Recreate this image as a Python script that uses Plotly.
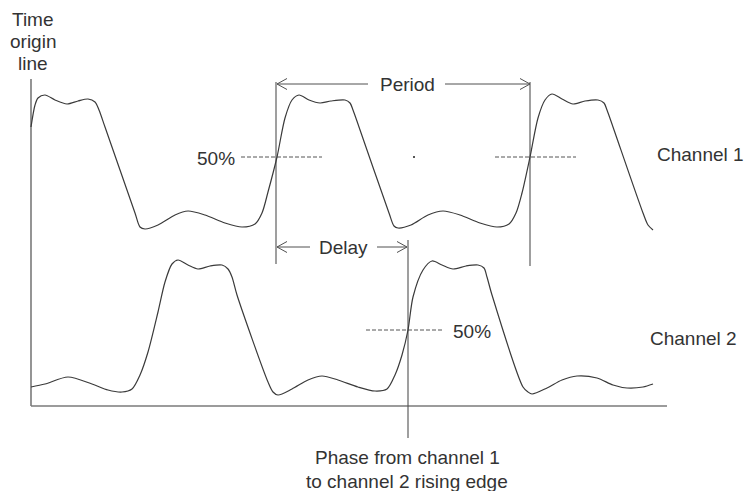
import plotly.graph_objects as go

# ---- Data (diagram coordinates: x to the right, y downwards) ----
ch1_x = [31, 35, 38, 45, 55, 67, 78, 88, 95, 99, 105, 135, 140, 145, 158, 175, 188, 205, 225, 242, 255, 262, 268, 277,
         285, 292, 299, 309, 320, 331, 345, 350, 353, 359, 389, 394, 398, 411, 428, 443, 460, 480, 497, 509, 516, 522, 530,
         538, 545, 552, 562, 573, 585, 598, 604, 607, 613, 643, 648, 653]
ch1_y = [127, 105, 98, 95, 100, 104, 101, 99, 102, 110, 127, 213, 227, 229, 225, 215, 211, 215, 223, 227, 224, 213, 192, 157,
         118, 100, 95, 100, 103, 101, 100, 103, 110, 127, 213, 226, 228, 225, 215, 211, 215, 223, 227, 224, 213, 193, 157,
         118, 100, 94, 99, 104, 101, 100, 103, 110, 127, 213, 225, 230]

ch2_x = [31, 45, 68, 92, 108, 122, 132, 140, 148, 158, 165, 172, 178, 188, 198, 210, 222, 228, 232, 237, 268, 273, 278,
         292, 308, 322, 338, 358, 375, 387, 395, 402, 408, 413, 423, 432, 442, 453, 466, 478, 484, 487, 492, 523, 528, 532,
         547, 562, 577, 597, 613, 627, 643, 653]
ch2_y = [387, 384, 377, 384, 390, 392, 389, 375, 352, 312, 282, 264, 260, 265, 269, 266, 265, 269, 277, 295, 382, 392, 395,
         389, 380, 376, 380, 387, 391, 389, 375, 355, 330, 297, 270, 261, 265, 269, 266, 265, 268, 277, 295, 387, 392, 394,
         388, 380, 376, 378, 385, 388, 387, 384]

origin_x = 31
axis_y = 406
axis_end_x = 667
origin_top_y = 79

crossing_ch1 = [276, 530]
crossing_ch2 = 408
level_ch1 = 157
level_ch2 = 330
period_y = 84
delay_y = 247

# ---- Styles ----
WAVE = "#3a3a3a"
AXIS = "#7a7a7a"
GUIDE = "#505050"
TEXT = "#333333"
FONT = "Liberation Sans, Arial, sans-serif"
FS = 19
HEAD_L, HEAD_W = 10, 5.5

fig = go.Figure()

def seg(xs, ys, color=GUIDE, width=1.0, dash=None):
    fig.add_trace(go.Scatter(x=xs, y=ys, mode="lines", hoverinfo="skip", showlegend=False,
                             line=dict(color=color, width=width, dash=dash)))

# axes of the diagram
seg([origin_x, origin_x], [origin_top_y, axis_y], AXIS, 1.6)
seg([origin_x, axis_end_x], [axis_y, axis_y], AXIS, 1.6)

# vertical reference lines
seg([crossing_ch1[0]] * 2, [82, 264], GUIDE, 1.1)
seg([crossing_ch1[1]] * 2, [82, 266], GUIDE, 1.1)
seg([crossing_ch2] * 2, [240, 438], GUIDE, 1.1)

# dimension arrows
def arrow(x0, x1, y, gap0, gap1):
    seg([x0, gap0], [y, y], GUIDE, 1.0)
    seg([gap1, x1], [y, y], GUIDE, 1.0)
    seg([x0 + HEAD_L, x0, x0 + HEAD_L], [y - HEAD_W, y, y + HEAD_W], GUIDE, 1.0)
    seg([x1 - HEAD_L, x1, x1 - HEAD_L], [y - HEAD_W, y, y + HEAD_W], GUIDE, 1.0)

arrow(crossing_ch1[0] + 1, crossing_ch1[1], period_y, 368, 445)
arrow(crossing_ch1[0] + 1, crossing_ch2 - 1, delay_y, 310, 377)

# 50% dashed levels
seg([241, 322], [level_ch1] * 2, "#555555", 1.0, "4px,2px")
seg([495, 576], [level_ch1] * 2, "#555555", 1.0, "4px,2px")
seg([366, 442], [level_ch2] * 2, "#555555", 1.0, "4px,2px")
fig.add_trace(go.Scatter(x=[414], y=[level_ch1], mode="markers", hoverinfo="skip", showlegend=False,
                         marker=dict(size=2, color="#555555", symbol="square")))

# waveforms
fig.add_trace(go.Scatter(x=ch1_x, y=ch1_y, mode="lines", hoverinfo="skip", showlegend=False,
                         line=dict(color=WAVE, width=1.2, shape="spline", smoothing=0.8)))
fig.add_trace(go.Scatter(x=ch2_x, y=ch2_y, mode="lines", hoverinfo="skip", showlegend=False,
                         line=dict(color=WAVE, width=1.2, shape="spline", smoothing=0.8)))

# labels
labels = [
    ("Time", 33, 19, "center"),
    ("origin", 33, 41, "center"),
    ("line", 33, 63, "center"),
    ("Period", 407, period_y, "center"),
    ("Delay", 343, delay_y, "center"),
    ("50%", 236, level_ch1 + 1, "right"),
    ("50%", 452, level_ch2 + 1, "left"),
    ("Channel 1", 656, 154, "left"),
    ("Channel 2", 649, 338, "left"),
    ("Phase from channel 1", 407, 457, "center"),
    ("to channel 2 rising edge", 407, 481, "center"),
]
for txt, x, y, xa in labels:
    fig.add_annotation(x=x, y=y, text=txt, showarrow=False, xanchor=xa, yanchor="middle",
                       font=dict(family=FONT, size=FS, color=TEXT), borderpad=0)

fig.update_layout(
    width=745, height=491,
    margin=dict(l=0, r=0, t=0, b=0),
    paper_bgcolor="white", plot_bgcolor="white",
    xaxis=dict(range=[0, 745], visible=False, fixedrange=True),
    yaxis=dict(range=[491, 0], visible=False, fixedrange=True),
    showlegend=False,
    hovermode=False,
)

fig.write_html(
    "out.html",
    config={"displayModeBar": False, "staticPlot": True},
    post_script="document.body.style.margin='0';"
                "document.documentElement.style.overflow='hidden';"
                "document.body.style.overflow='hidden';",
)
